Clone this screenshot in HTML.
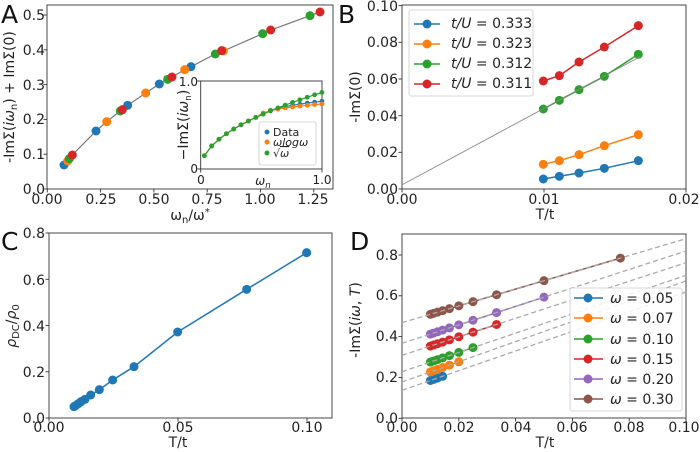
<!DOCTYPE html>
<html><head><meta charset="utf-8"><style>
html,body{margin:0;padding:0;background:#fff;}
svg{display:block;font-family:"DejaVu Sans","Liberation Sans",sans-serif;}
.t{font-size:14px;fill:#222;}
.s{font-size:11px;fill:#222;}
.L{font-size:25px;fill:#111;}
</style></head><body>
<svg id="c" width="700" height="452" viewBox="0 0 700 452" xmlns="http://www.w3.org/2000/svg">
<rect width="700" height="452" fill="#fff"/>
<g id="g"></g>
<text class="L" x="1" y="23">A</text>
<text class="L" x="338" y="23">B</text>
<text class="L" x="1" y="250">C</text>
<text class="L" x="350" y="250">D</text>
<g class="t" text-anchor="end">
<text x="45" y="194">0.0</text><text x="45" y="159">0.1</text><text x="45" y="124">0.2</text><text x="45" y="90">0.3</text><text x="45" y="55">0.4</text><text x="45" y="20">0.5</text>
</g>
<g class="t" text-anchor="middle">
<text x="47" y="204">0.00</text><text x="101" y="204">0.25</text><text x="154" y="204">0.50</text><text x="207" y="204">0.75</text><text x="260" y="204">1.00</text><text x="313" y="204">1.25</text>
<text x="190" y="220">ω<tspan font-size="10" dy="3">n</tspan><tspan dy="-3">/ω</tspan><tspan font-size="10" dy="-5">*</tspan></text>
</g>
<text class="t" text-anchor="middle" transform="translate(14,97) rotate(-90)">-ImΣ(<tspan font-style="italic">iω</tspan><tspan font-size="10" dy="3">n</tspan><tspan dy="-3">) + ImΣ(0)</tspan></text>
<g class="t" text-anchor="end" font-size="12"><text x="198" y="173" font-size="12">0</text><text x="198" y="86" font-size="12">1.0</text></g>
<g class="t" text-anchor="middle"><text x="201" y="184" font-size="12">0</text><text x="322" y="184" font-size="12">1.0</text><text x="263" y="185" font-size="12" font-style="italic">ω<tspan font-size="9" dy="3">n</tspan></text></g>
<text class="t" font-size="12" text-anchor="middle" transform="translate(188,125) rotate(-90)">−ImΣ(<tspan font-style="italic">iω</tspan><tspan font-size="9" dy="3">n</tspan><tspan dy="-3">)</tspan></text>
<rect x="259" y="122" width="57" height="43" fill="#fff" fill-opacity="0.8" stroke="#ccc" stroke-width="0.8" rx="2"/>
<circle cx="267" cy="132" r="2.5" fill="#1f77b4"/><circle cx="267" cy="142" r="2.5" fill="#ff7f0e"/><circle cx="267" cy="153" r="2.5" fill="#2ca02c"/>
<g class="s"><text x="273" y="136">Data</text><text x="273" y="146" font-style="italic">ωlogω</text><text x="273" y="157">√<tspan font-style="italic" text-decoration="overline">ω</tspan></text></g>
<g class="t" text-anchor="end">
<text x="398" y="194">0.00</text><text x="398" y="157">0.02</text><text x="398" y="121">0.04</text><text x="398" y="84">0.06</text><text x="398" y="47">0.08</text><text x="398" y="11">0.10</text>
</g>
<g class="t" text-anchor="middle">
<text x="402" y="204">0.00</text><text x="544" y="204">0.01</text><text x="684" y="204">0.02</text>
<text x="545" y="219">T/t</text>
</g>
<text class="t" text-anchor="middle" transform="translate(360,97) rotate(-90)">-ImΣ(0)</text>
<rect x="409" y="10" width="124" height="86" fill="#fff" stroke="#ccc" stroke-width="0.8" rx="2"/>
<g class="t" text-anchor="end">
<text x="45" y="423">0.0</text><text x="45" y="377">0.2</text><text x="45" y="331">0.4</text><text x="45" y="285">0.6</text><text x="45" y="238">0.8</text>
</g>
<g class="t" text-anchor="middle">
<text x="49" y="432">0.00</text><text x="178" y="432">0.05</text><text x="307" y="432">0.10</text>
<text x="178" y="447">T/t</text>
</g>
<text class="t" text-anchor="middle" transform="translate(16,326) rotate(-90)"><tspan font-style="italic">ρ</tspan><tspan font-size="10" dy="3">DC</tspan><tspan dy="-3">/</tspan><tspan font-style="italic">ρ</tspan><tspan font-size="10" dy="3">0</tspan></text>
<g class="t" text-anchor="end">
<text x="398" y="423">0.0</text><text x="398" y="382">0.2</text><text x="398" y="341">0.4</text><text x="398" y="300">0.6</text><text x="398" y="260">0.8</text>
</g>
<g class="t" text-anchor="middle">
<text x="402" y="432">0.00</text><text x="459" y="432">0.02</text><text x="516" y="432">0.04</text><text x="572" y="432">0.06</text><text x="629" y="432">0.08</text><text x="684" y="432">0.10</text>
<text x="545" y="447">T/t</text>
</g>
<text class="t" text-anchor="middle" transform="translate(360,320) rotate(-90)">-ImΣ(<tspan font-style="italic">iω</tspan>, <tspan font-style="italic">T</tspan>)</text>
<g id="leg"></g>
<g class="t" font-style="italic">
<text x="451" y="28">t/U<tspan font-style="normal"> = 0.333</tspan></text>
<text x="451" y="48">t/U<tspan font-style="normal"> = 0.323</tspan></text>
<text x="451" y="68">t/U<tspan font-style="normal"> = 0.312</tspan></text>
<text x="451" y="88">t/U<tspan font-style="normal"> = 0.311</tspan></text>
<text x="610" y="303">ω<tspan font-style="normal"> = 0.05</tspan></text>
<text x="610" y="323">ω<tspan font-style="normal"> = 0.07</tspan></text>
<text x="610" y="344">ω<tspan font-style="normal"> = 0.10</tspan></text>
<text x="610" y="364">ω<tspan font-style="normal"> = 0.15</tspan></text>
<text x="610" y="384">ω<tspan font-style="normal"> = 0.20</tspan></text>
<text x="610" y="404">ω<tspan font-style="normal"> = 0.30</tspan></text>
</g>
</svg>
<script>
var NS="http://www.w3.org/2000/svg",G=document.getElementById("g"),LG=document.getElementById("leg");
function el(p,n,a){var e=document.createElementNS(NS,n);for(var k in a)e.setAttribute(k,a[k]);p.appendChild(e);return e;}
function line(p,pts,c,w,d){var a={points:pts.map(function(q){return q[0].toFixed(1)+","+q[1].toFixed(1)}).join(" "),fill:"none",stroke:c,"stroke-width":w};if(d)a["stroke-dasharray"]=d;el(p,"polyline",a);}
function dots(p,pts,c,r){pts.forEach(function(q){el(p,"circle",{cx:q[0],cy:q[1],r:r,fill:c});});}
function frame(x0,y0,x1,y1){el(G,"rect",{x:x0,y:y0,width:x1-x0,height:y1-y0,fill:"none",stroke:"#333","stroke-width":0.9});}
function xt(xs,y){xs.forEach(function(x){el(G,"line",{x1:x,x2:x,y1:y,y2:y+3.5,stroke:"#333","stroke-width":0.9});});}
function yt(ys,x){ys.forEach(function(y){el(G,"line",{x1:x-3.5,x2:x,y1:y,y2:y,stroke:"#333","stroke-width":0.9});});}
var C=["#1f77b4","#ff7f0e","#2ca02c","#d62728","#9467bd","#8c564b"];
function Z(a,ox,oy){return a.map(function(q){return [ox+q[0]/3,oy+q[1]/3];});}
frame(47,5,333,189);
xt([47.3,100.6,153.9,207.2,260.5,313.8],189);yt([189,154.2,119.4,84.6,49.8,15],47);
var curve=[[185,505],[192,495],[203,483],[217,465],[288,393],[320,365],[361,333],[383,316],[437,279],[478,252],[503,238],[516,231],[554,209],[573,200],[646,162],[670,153],[788,101],[812,90],[930,47],[960,36]];
line(G,Z(curve,0,0),"#777",1.2);
dots(G,Z([[192,495],[288,393],[383,316],[478,252],[573,200]],0,0),C[0],4.5);
dots(G,Z([[203,483],[320,365],[437,279],[554,209],[670,153]],0,0),C[1],4.5);
dots(G,Z([[208,476],[361,333],[503,238],[646,162],[788,101],[930,47]],0,0),C[2],4.5);
dots(G,Z([[217,465],[367,329],[516,231],[665,152],[812,90],[960,36]],0,0),C[3],4.5);
el(G,"rect",{x:200.7,y:81,width:121.3,height:88,fill:"#fff",stroke:"#333","stroke-width":0.9});
yt([169,81],200.7);xt([200.7,322],169);
var ix=function(w){return 200.7+w*121.3},iy=function(v){return 169-v*88};
var gb=[],go=[],gg=[];
for(var k=0;k<17;k++){var w=0.03+k*0.0606,g=0.87*Math.sqrt(w);
var b=w<0.55?g:0.645+(0.77-0.645)*Math.pow((w-0.55)/0.45,0.6);
var o=w<0.5?g:0.615+(0.74-0.615)*Math.pow((w-0.5)/0.5,0.5);
gb.push([ix(w),iy(b)]);go.push([ix(w),iy(o)]);gg.push([ix(w),iy(g)]);}
line(G,gb,C[0],1.2);dots(G,gb,C[0],2.4);line(G,go,C[1],1.2);dots(G,go,C[1],2.4);line(G,gg,C[2],1.2);dots(G,gg,C[2],2.4);
frame(402,5,686,189);
xt([402,544,686],189);yt([189,152.3,115.7,79,42.3,5.7],402);
var bx=[580,628,687,763,865];
[[537,529,519,505,482],[493,482,464,437,404],[327,301,269,229,163],[243,227,186,141,77]].forEach(function(ys,i){
var p=Z(bx.map(function(x,j){return [x,ys[j]]}),350,0);line(G,p,C[i],1.5);dots(G,p,C[i],4.5);});
line(G,Z([[155,555],[870,170]],350,0),"#888",0.9);
[24,44,64,84].forEach(function(y,i){line(LG,[[414,y],[440,y]],C[i],1.5);dots(LG,[[427,y]],C[i],4.5);});
frame(49,233,332,418);
xt([49,178,307],418);yt([418,371.8,325.5,279.3,233],49);
var cp=Z([[222,542],[228,538],[235,533],[243,527],[255,520],[272,507],[298,491],[338,462],[402,422],[533,318],[740,190],[920,80]],0,226);
line(G,cp,C[0],1.5);dots(G,cp,C[0],4.5);
frame(402,234,686,418);
xt([402,458.8,515.6,572.4,629.2,686],418);yt([418.3,377.5,336.6,295.8,255],402);
var lines=[[493,198],[468,165],[437,148],[388,110],[352,75],[290,38]];
var Ts=[0.01,0.0111,0.0125,0.0143,0.0167,0.02,0.025,0.0333,0.05,0.0769];
var nmax=[4,6,7,8,9,10];
var dl=function(L,T){return [402+T*2840, 226+(L[0]+(L[1]-L[0])*T/0.1)/3];};
lines.forEach(function(L,i){
var pts=Ts.slice(0,nmax[i]).map(function(T){return dl(L,T)});
line(G,pts,C[i],1.5);dots(G,pts,C[i],4.5);});
lines.forEach(function(L){line(G,[dl(L,0),dl(L,0.1)],"#aaa",1.3,"5,3");});
el(LG,"rect",{x:570,y:288,width:112,height:123,fill:"#fff","fill-opacity":0.85,stroke:"#ccc","stroke-width":0.8,rx:2});
[298,318,339,359,379,399].forEach(function(y,i){line(LG,[[574,y],[603,y]],C[i],1.5);dots(LG,[[588,y]],C[i],4.5);});
</script>
</body></html>
